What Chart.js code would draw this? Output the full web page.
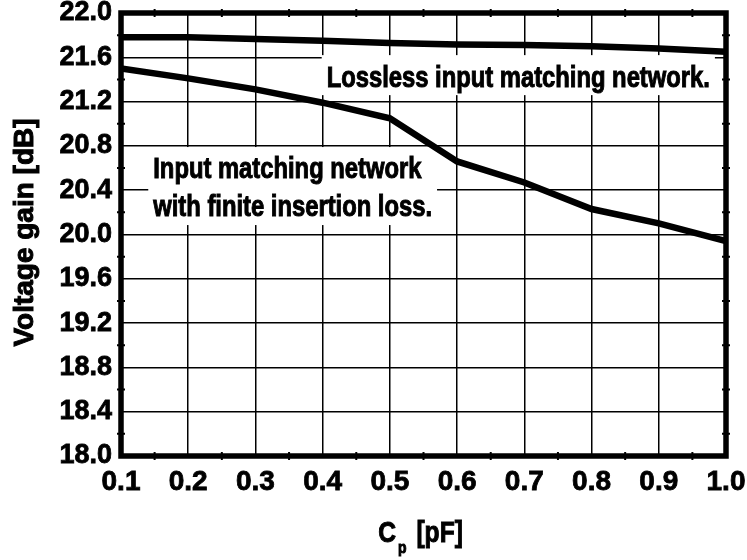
<!DOCTYPE html>
<html>
<head>
<meta charset="utf-8">
<script src="https://cdn.jsdelivr.net/npm/chart.js@4/dist/chart.umd.min.js"></script>
<style>
  html, body { margin: 0; padding: 0; background: #fff; }
</style>
</head>
<body>
<canvas id="myChart" width="747" height="560"></canvas>
<script>
// C_p sweep in pF
const capValues = [0.1, 0.2, 0.3, 0.4, 0.5, 0.6, 0.7, 0.8, 0.9, 1.0];
// voltage gain in dB
const losslessGain = [21.78, 21.78, 21.765, 21.75, 21.73, 21.715, 21.71, 21.70, 21.68, 21.65];
const lossyGain = [21.50, 21.41, 21.31, 21.19, 21.05, 20.66, 20.47, 20.23, 20.10, 19.94];

const xRange = [0.1, 1.0];
const xStep = 0.1;
const yRange = [18.0, 22.0];
const yStep = 0.4;

const xTitle = ['C', 'p', '[pF]'];
const yTitle = 'Voltage gain [dB]';
const noteLossless = ['Lossless input matching network.'];
const noteLossy = ['Input matching network', 'with finite insertion loss.'];

const FONT = '"Liberation Sans", Arial, sans-serif';
// no narrow face installed, so squeeze the regular bold one
const NARROW_SCALE = 0.82;

function toPoints(ys) {
  return capValues.map((c, i) => ({ x: c, y: ys[i] }));
}

function narrowWidth(ctx, text) {
  return ctx.measureText(text).width * NARROW_SCALE;
}

// heavy text: fill plus a thin outline
function fillNarrow(ctx, text, x, y) {
  ctx.save();
  ctx.translate(x, y);
  ctx.scale(NARROW_SCALE, 1);
  ctx.lineWidth = 1;
  ctx.strokeStyle = '#000';
  ctx.fillText(text, 0, 0);
  ctx.strokeText(text, 0, 0);
  ctx.restore();
}

function drawNote(ctx, lines, left, mid) {
  const size = 29;
  const capH = size * 0.72;
  const gap = 38;
  ctx.font = 'bold ' + size + 'px ' + FONT;
  ctx.textAlign = 'left';
  ctx.textBaseline = 'alphabetic';
  lines.forEach((t, i) => {
    const cy = mid + i * gap;
    const w = narrowWidth(ctx, t);
    ctx.fillStyle = '#fff';
    ctx.fillRect(left - 5, cy - 21, w + 10, 40);
    ctx.fillStyle = '#000';
    fillNarrow(ctx, t, left, cy + capH / 2);
  });
}

const framePlugin = {
  id: 'frame',
  beforeDatasetsDraw(chart) {
    const ctx = chart.ctx;
    const x = chart.scales.x, y = chart.scales.y;
    ctx.save();
    drawNote(ctx, noteLossless, x.getPixelForValue(0.406), y.getPixelForValue(21.43));
    drawNote(ctx, noteLossy, x.getPixelForValue(0.148), y.getPixelForValue(20.60));
    ctx.restore();
  },
  afterDatasetsDraw(chart) {
    const ctx = chart.ctx;
    const a = chart.chartArea;
    const x = chart.scales.x, y = chart.scales.y;
    ctx.save();
    ctx.strokeStyle = '#000';
    // small ticks halfway between grid lines
    ctx.lineWidth = 2;
    ctx.beginPath();
    for (let v = xRange[0] + xStep / 2; v < xRange[1]; v += xStep) {
      const px = x.getPixelForValue(v);
      ctx.moveTo(px, a.top - 4); ctx.lineTo(px, a.top + 4);
      ctx.moveTo(px, a.bottom - 4); ctx.lineTo(px, a.bottom + 4);
    }
    for (let v = yRange[0] + yStep / 2; v < yRange[1]; v += yStep) {
      const py = y.getPixelForValue(v);
      ctx.moveTo(a.left - 4, py); ctx.lineTo(a.left + 4, py);
      ctx.moveTo(a.right - 4, py); ctx.lineTo(a.right + 4, py);
    }
    ctx.stroke();
    // heavy box round the plot
    ctx.lineWidth = 5.5;
    ctx.lineJoin = 'miter';
    ctx.strokeRect(a.left, a.top, a.right - a.left, a.bottom - a.top);
    ctx.restore();
  },
  afterDraw(chart) {
    const ctx = chart.ctx;
    const a = chart.chartArea;
    ctx.save();
    ctx.fillStyle = '#000';
    ctx.strokeStyle = '#000';

    // y title, rotated
    ctx.font = 'bold 28px ' + FONT;
    ctx.textAlign = 'center';
    ctx.textBaseline = 'alphabetic';
    ctx.lineWidth = 1;
    ctx.translate(33, (a.top + a.bottom) / 2 - 2);
    ctx.rotate(-Math.PI / 2);
    ctx.fillText(yTitle, 0, 0);
    ctx.strokeText(yTitle, 0, 0);
    ctx.setTransform(1, 0, 0, 1, 0, 0);

    // x title with subscript p
    const big = 'bold 30px ' + FONT;
    const small = 'bold 17px ' + FONT;
    ctx.textAlign = 'left';
    ctx.font = big;
    const wC = narrowWidth(ctx, xTitle[0]);
    const wU = narrowWidth(ctx, xTitle[2]);
    ctx.font = small;
    const wp = narrowWidth(ctx, xTitle[1]);
    const gap = 10;
    const total = wC + 2 + wp + gap + wU;
    let sx = (a.left + a.right) / 2 - 3 - total / 2;
    const base = 542;
    ctx.font = big;
    fillNarrow(ctx, xTitle[0], sx, base);
    sx += wC + 2;
    ctx.font = small;
    fillNarrow(ctx, xTitle[1], sx, base + 11);
    sx += wp + gap;
    ctx.font = big;
    fillNarrow(ctx, xTitle[2], sx, base);
    ctx.restore();
  }
};

const ctx = document.getElementById('myChart');

new Chart(ctx, {
  type: 'line',
  data: {
    datasets: [
      {
        label: 'Lossless input matching network',
        data: toPoints(losslessGain),
        borderColor: '#000',
        borderWidth: 6.5,
        pointRadius: 0,
        tension: 0
      },
      {
        label: 'Input matching network with finite insertion loss',
        data: toPoints(lossyGain),
        borderColor: '#000',
        borderWidth: 6.5,
        pointRadius: 0,
        tension: 0
      }
    ]
  },
  options: {
    responsive: false,
    animation: false,
    devicePixelRatio: 1,
    layout: { padding: { top: 13, right: 21, left: 0, bottom: 0 } },
    plugins: {
      legend: { display: false },
      tooltip: { enabled: false }
    },
    scales: {
      x: {
        type: 'linear',
        min: xRange[0],
        max: xRange[1],
        ticks: {
          stepSize: xStep,
          autoSkip: false,
          maxRotation: 0,
          color: '#000',
          textStrokeColor: '#000',
          textStrokeWidth: 0.8,
          padding: 9,
          font: { family: FONT, size: 28, weight: 'bold' },
          callback: v => v.toFixed(1)
        },
        grid: { color: '#000', lineWidth: 1.5, drawTicks: false },
        border: { display: false },
        afterFit: s => { s.height = 104; s.paddingLeft = 0; s.paddingRight = 0; }
      },
      y: {
        min: yRange[0],
        max: yRange[1],
        ticks: {
          stepSize: yStep,
          autoSkip: false,
          color: '#000',
          textStrokeColor: '#000',
          textStrokeWidth: 0.8,
          padding: 9,
          font: { family: FONT, size: 27, weight: 'bold' },
          callback: v => v.toFixed(1)
        },
        grid: { color: '#000', lineWidth: 1.5, drawTicks: false },
        border: { display: false },
        afterFit: s => { s.width = 121; s.paddingTop = 0; s.paddingBottom = 0; }
      }
    }
  },
  plugins: [framePlugin]
});
</script>
</body>
</html>
